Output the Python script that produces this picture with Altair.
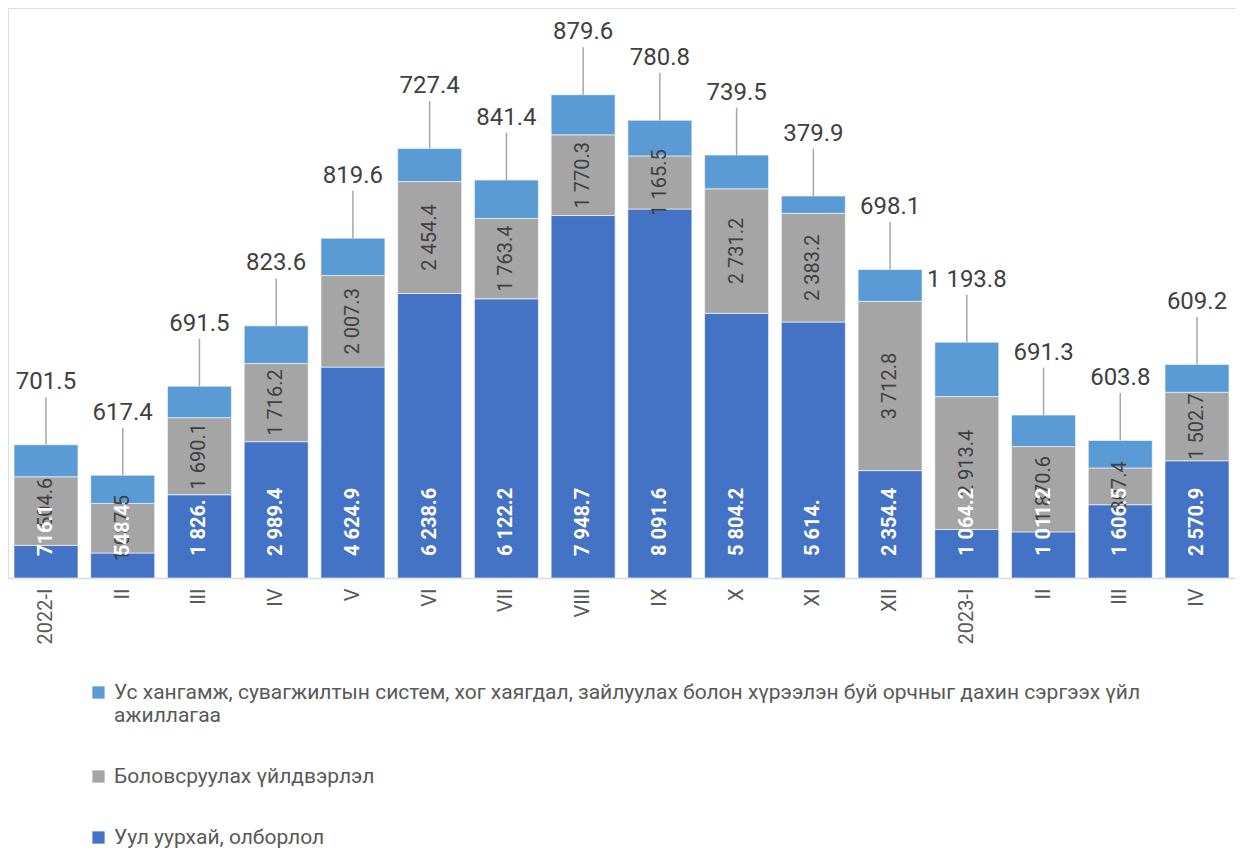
import altair as alt
import pandas as pd

periods = ["2022-I", "2022-II", "2022-III", "2022-IV", "2022-V", "2022-VI", "2022-VII",
           "2022-VIII", "2022-IX", "2022-X", "2022-XI", "2022-XII",
           "2023-I", "2023-II", "2023-III", "2023-IV"]
mining = [716.1, 548.4, 1826.0, 2989.4, 4624.9, 6238.6, 6122.2, 7948.7, 8091.6,
          5804.2, 5614.0, 2354.4, 1064.2, 1011.2, 1606.5, 2570.9]
manufacturing = [1504.6, 1087.5, 1690.1, 1716.2, 2007.3, 2454.4, 1763.4, 1770.3, 1165.5,
                 2731.2, 2383.2, 3712.8, 2913.4, 1870.6, 807.4, 1502.7]
water = [701.5, 617.4, 691.5, 823.6, 819.6, 727.4, 841.4, 879.6, 780.8,
         739.5, 379.9, 698.1, 1193.8, 691.3, 603.8, 609.2]

series_names = [
    "Ус хангамж, сувагжилтын систем, хог хаягдал, зайлуулах болон хүрээлэн буй орчныг дахин сэргээх үйл ажиллагаа",
    "Боловсруулах үйлдвэрлэл",
    "Уул уурхай, олборлол",
]
colors = ["#5B9BD5", "#A5A5A5", "#4472C4"]

wide = pd.DataFrame({"period": periods, "mining": mining, "manuf": manufacturing, "water": water})
long = pd.concat([
    pd.DataFrame({"period": periods, "series": series_names[2], "value": mining, "ord": 0}),
    pd.DataFrame({"period": periods, "series": series_names[1], "value": manufacturing, "ord": 1}),
    pd.DataFrame({"period": periods, "series": series_names[0], "value": water, "ord": 2}),
], ignore_index=True)


def fmt(f):
    return (f"datum.{f} % 1 == 0 ? replace(format(datum.{f}, ',.0f'), ',', ' ') + '.' "
            f": replace(format(datum.{f}, ',.1f'), ',', ' ')")


yscale = alt.Scale(domain=[0, 12500], nice=False, zero=True)
xenc = alt.X(
    "period:N", sort=periods, title=None,
    scale=alt.Scale(paddingInner=0.166, paddingOuter=0.078),
    axis=alt.Axis(
        labelAngle=270, labelFontSize=20, labelColor="#595959", labelPadding=10,
        ticks=False, domainColor="#D9D9D9", domainWidth=1.5,
        labelExpr="split(datum.label, '-')[1] == 'I' ? datum.label : split(datum.label, '-')[1]",
    ),
)

parts = series_names[0].rsplit(" ", 1)
legend_expr = (f"datum.label == '{series_names[0]}' ? ['{parts[0]}', '{parts[1]}'] : datum.label")

bars = alt.Chart(long).mark_bar(stroke="white", strokeWidth=1, strokeOpacity=0.6).encode(
    x=xenc,
    y=alt.Y("value:Q", stack="zero", scale=yscale, axis=None),
    color=alt.Color(
        "series:N",
        scale=alt.Scale(domain=series_names, range=colors),
        legend=alt.Legend(
            title=None, orient="none", legendX=80, legendY=674, direction="vertical",
            symbolType="square", symbolSize=150, symbolStrokeWidth=0,
            labelFontSize=21, labelColor="#595959", labelLimit=1200,
            rowPadding=39, labelExpr=legend_expr, labelOffset=5,
        ),
    ),
    order=alt.Order("ord:Q"),
)

base = alt.Chart(wide).transform_calculate(
    zero="0",
    gmid="datum.mining + datum.manuf / 2",
    total="datum.mining + datum.manuf + datum.water",
).transform_calculate(
    line_top="datum.total + 1040",
    label_pos="datum.total + 1370",
    mtxt=fmt("mining"),
    gtxt=fmt("manuf"),
    wtxt=fmt("water"),
)

mining_labels = base.mark_text(
    angle=270, align="left", baseline="middle", color="white",
    fontWeight="bold", fontSize=20, yOffset=-22,
).encode(x=xenc, y=alt.Y("zero:Q", scale=yscale, axis=None), text="mtxt:N")

manuf_labels = base.mark_text(
    angle=270, align="center", baseline="middle", color="#404040", fontSize=20,
).encode(x=xenc, y=alt.Y("gmid:Q", scale=yscale, axis=None), text="gtxt:N")

leaders = base.mark_rule(color="#A6A6A6", strokeWidth=1.5).encode(
    x=xenc, y=alt.Y("total:Q", scale=yscale, axis=None), y2="line_top:Q",
)

water_labels = base.mark_text(
    align="center", baseline="middle", color="#404040", fontSize=24,
).encode(x=xenc, y=alt.Y("label_pos:Q", scale=yscale, axis=None), text="wtxt:N")

chart = alt.layer(bars, manuf_labels, mining_labels, leaders, water_labels).properties(
    width=1227, height=570, padding=0,
).configure_view(stroke=None).configure(font="Roboto")

chart.save("out.html", embed_options={"renderer": "svg", "actions": False})
